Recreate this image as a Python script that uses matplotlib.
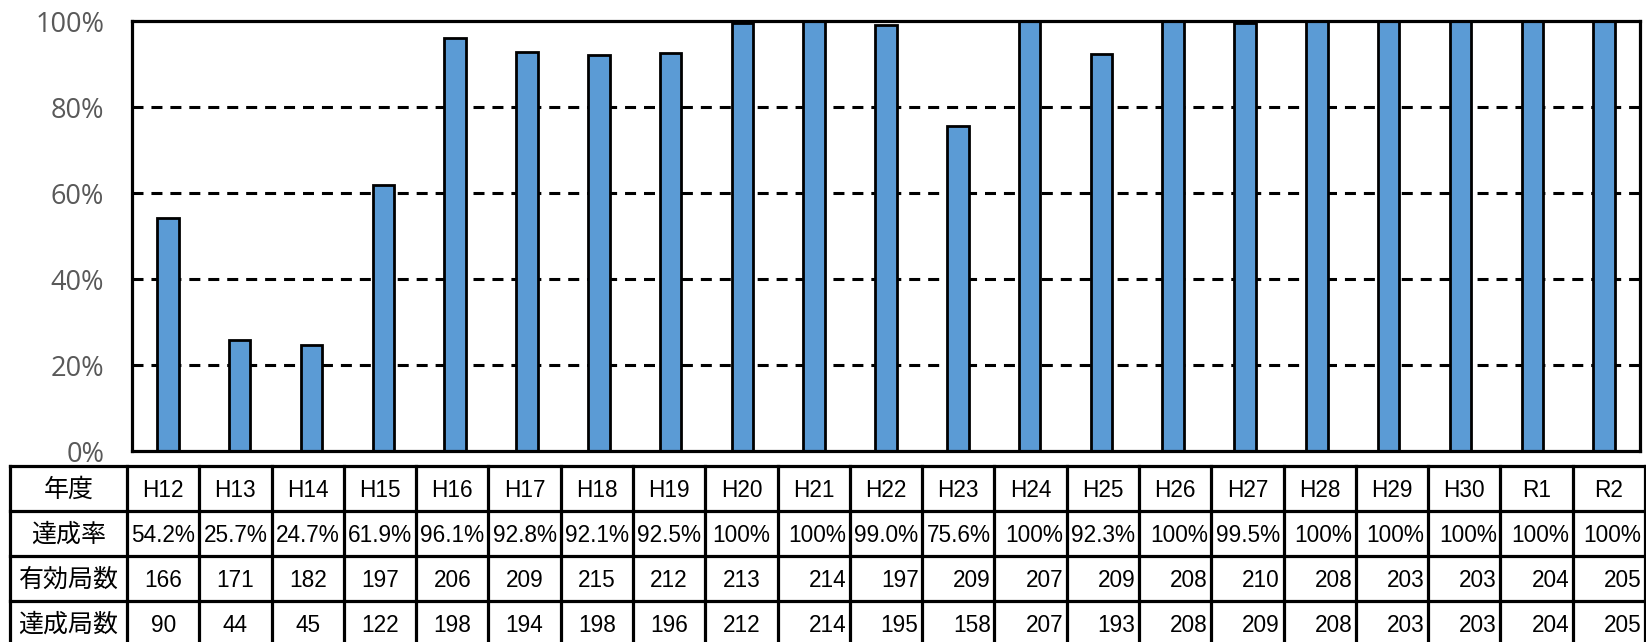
import matplotlib
matplotlib.use("Agg")
import matplotlib.pyplot as plt

plt.rcParams['font.family'] = ['Liberation Sans', 'Noto Sans CJK JP', 'DejaVu Sans']

years = ["H12", "H13", "H14", "H15", "H16", "H17", "H18", "H19", "H20", "H21", "H22",
         "H23", "H24", "H25", "H26", "H27", "H28", "H29", "H30", "R1", "R2"]
bar_rates = [54.2, 25.7, 24.7, 61.9, 96.1, 92.8, 92.1, 92.5, 99.5, 100, 99.0,
             75.6, 100, 92.3, 100, 99.5, 100, 100, 100, 100, 100]
rate_labels = ["54.2%", "25.7%", "24.7%", "61.9%", "96.1%", "92.8%", "92.1%", "92.5%", "100%",
               "100%", "99.0%", "75.6%", "100%", "92.3%", "100%", "99.5%", "100%", "100%",
               "100%", "100%", "100%"]
valid_stations = [166, 171, 182, 197, 206, 209, 215, 212, 213, 214, 197, 209, 207, 209,
                  208, 210, 208, 203, 203, 204, 205]
achieved_stations = [90, 44, 45, 122, 198, 194, 198, 196, 212, 214, 195, 158, 207, 193,
                     208, 209, 208, 203, 203, 204, 205]
row_headers = ["年度", "達成率", "有効局数", "達成局数"]
yticks = [0, 20, 40, 60, 80, 100]
ytick_labels = ["0%", "20%", "40%", "60%", "80%", "100%"]

W, H = 1646, 642
fig = plt.figure(figsize=(W / 100, H / 100), dpi=100)

# ---- bar chart ----
px_l, px_r, px_t, px_b = 132, 1640, 21, 451
ax = fig.add_axes([px_l / W, 1 - px_b / H, (px_r - px_l) / W, (px_b - px_t) / H])
n = len(years)
x = list(range(n))
ax.bar(x, bar_rates, width=0.3, color="#5B9BD5", edgecolor="black", linewidth=2.0, zorder=3)
ax.set_xlim(-0.5, n - 0.5)
ax.set_ylim(0, 100)
ax.set_yticks(yticks)
ax.set_yticklabels(ytick_labels, fontsize=19.5, color="#595959", family=["Open Sans", "DejaVu Sans"])
ax.tick_params(axis="y", length=0, pad=20)
ax.set_xticks([])
for v in yticks[1:-1]:
    ax.axhline(v, color="black", linewidth=2.2, linestyle=(0, (3.6, 2.6)), zorder=1)
for s in ax.spines.values():
    s.set_linewidth(2.3)
    s.set_color("black")
    s.set_zorder(4)

# ---- table ----
t_l, t_r, t_t, t_b = 10, 1645, 466, 646
tax = fig.add_axes([t_l / W, 1 - t_b / H, (t_r - t_l) / W, (t_b - t_t) / H])
first_w = (127 - 10) / ((1645 - 127) / n)
tax.set_xlim(-first_w, n)
tax.set_ylim(4, 0)
tax.axis("off")

lw = 2.3
for r in range(5):
    tax.plot([-first_w, n], [r, r], color="black", linewidth=lw, solid_capstyle="projecting",
             clip_on=False)
tax.plot([-first_w, -first_w], [0, 4], color="black", linewidth=lw, clip_on=False)
for c in range(n + 1):
    tax.plot([c, c], [0, 4], color="black", linewidth=lw, clip_on=False)

for r, h in enumerate(row_headers):
    tax.text(-first_w / 2, r + 0.52, h, ha="center", va="center", fontsize=18,
             family=["Noto Sans CJK JP", "DejaVu Sans"])

fs = 16.3
rows = [years, rate_labels, [str(v) for v in valid_stations], [str(v) for v in achieved_stations]]
for r, vals in enumerate(rows):
    for c, v in enumerate(vals):
        if r == 0 or c <= 8:
            tax.text(c + 0.5, r + 0.54, v, ha="center", va="center", fontsize=fs)
        else:
            tax.text(c + 0.95, r + 0.54, v, ha="right", va="center", fontsize=fs)

fig.savefig("out.png", dpi=100)
